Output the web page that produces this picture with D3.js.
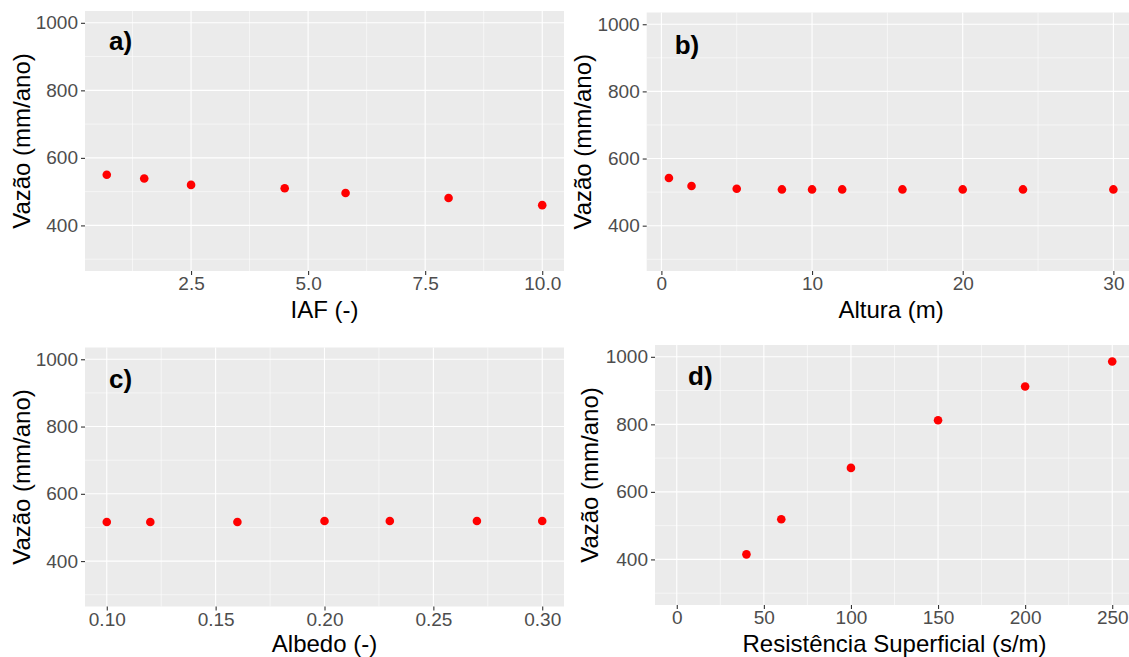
<!DOCTYPE html>
<html>
<head>
<meta charset="utf-8">
<script src="https://cdn.jsdelivr.net/npm/d3@7"></script>
<style>
  html, body { margin: 0; padding: 0; background: #ffffff; }
  svg { display: block; }
</style>
</head>
<body>
<svg id="chart" width="1129" height="657"></svg>
<script>
// ---------------- DATA ----------------
const iafX = [0.7, 1.5, 2.5, 4.5, 5.8, 8, 10];
const iafY = [550, 539, 520, 510, 496, 481, 460];

const alturaX = [0.5, 2, 5, 8, 10, 12, 16, 20, 24, 30];
const alturaY = [542, 518, 510, 508, 508, 508, 508, 508, 508, 508];

const albedoX = [0.10, 0.12, 0.16, 0.20, 0.23, 0.27, 0.30];
const albedoY = [516, 516, 516, 519, 519, 519, 519];

const rsX = [40, 60, 100, 150, 200, 250];
const rsY = [415, 519, 671, 812, 912, 986];

const iafTicks = [2.5, 5, 7.5, 10];
const alturaTicks = [0, 10, 20, 30];
const albedoTicks = [0.10, 0.15, 0.20, 0.25, 0.30];
const rsTicks = [0, 50, 100, 150, 200, 250];

const yTicks = [400, 600, 800, 1000];
const yLimits = [300, 1000];

const yTitle = "Vazão (mm/ano)";
const panelLabels = ["a)", "b)", "c)", "d)"];
const xTitles = ["IAF (-)", "Altura (m)", "Albedo (-)", "Resistência Superficial (s/m)"];

// ---------------- LAYOUT ----------------
const W = 1129, H = 657;
const FONT = "'Liberation Sans', Arial, Helvetica, sans-serif";
const panels = [
  { x: iafX, y: iafY, ticks: iafTicks, fmt: d3.format(".1f"), extra: [],
    box: { l: 85, r: 564, t: 11, b: 271 }, ytx: 30, lab: { dx: 24, dy: 39 } },
  { x: alturaX, y: alturaY, ticks: alturaTicks, fmt: d3.format("d"), extra: [],
    box: { l: 646.7, r: 1135.6, t: 12.5, b: 271 }, ytx: 591, lab: { dx: 28, dy: 41 } },
  { x: albedoX, y: albedoY, ticks: albedoTicks, fmt: d3.format(".2f"), extra: [],
    box: { l: 85, r: 564, t: 347.5, b: 606.5 }, ytx: 30, lab: { dx: 24, dy: 40 } },
  { x: rsX, y: rsY, ticks: rsTicks, fmt: d3.format("d"), extra: [0],
    box: { l: 655, r: 1134, t: 345, b: 605 }, ytx: 598, lab: { dx: 33, dy: 40 } }
];

function expand(ext) {
  const r = ext[1] - ext[0];
  return [ext[0] - 0.05 * r, ext[1] + 0.05 * r];
}
function minors(ticks, dom) {
  const step = ticks[1] - ticks[0];
  const out = [];
  const lo = ticks[0] - step / 2;
  for (let v = lo; v <= dom[1] + 1e-9; v += step) {
    if (v >= dom[0] - 1e-9) out.push(v);
  }
  return out;
}

const svg = d3.select("#chart");
svg.append("rect").attr("width", W).attr("height", H).attr("fill", "#ffffff");

const yDomain = expand(yLimits);
const yMinor = minors(yTicks, yDomain);

panels.forEach((p, i) => {
  const B = p.box;
  const xDomain = expand(d3.extent(p.x.concat(p.extra)));
  const xs = d3.scaleLinear().domain(xDomain).range([B.l, B.r]);
  const ys = d3.scaleLinear().domain(yDomain).range([B.b, B.t]);
  const g = svg.append("g");

  // background
  g.append("rect").attr("x", B.l).attr("y", B.t)
    .attr("width", B.r - B.l).attr("height", B.b - B.t).attr("fill", "#EBEBEB");

  // minor grid
  const xMinor = minors(p.ticks, xDomain);
  g.selectAll(null).data(yMinor).enter().append("line")
    .attr("x1", B.l).attr("x2", B.r).attr("y1", d => ys(d)).attr("y2", d => ys(d))
    .attr("stroke", "#ffffff").attr("stroke-width", 0.55);
  g.selectAll(null).data(xMinor).enter().append("line")
    .attr("y1", B.t).attr("y2", B.b).attr("x1", d => xs(d)).attr("x2", d => xs(d))
    .attr("stroke", "#ffffff").attr("stroke-width", 0.55);
  // major grid
  g.selectAll(null).data(yTicks).enter().append("line")
    .attr("x1", B.l).attr("x2", B.r).attr("y1", d => ys(d)).attr("y2", d => ys(d))
    .attr("stroke", "#ffffff").attr("stroke-width", 1.1);
  g.selectAll(null).data(p.ticks).enter().append("line")
    .attr("y1", B.t).attr("y2", B.b).attr("x1", d => xs(d)).attr("x2", d => xs(d))
    .attr("stroke", "#ffffff").attr("stroke-width", 1.1);

  // axes
  const ax = g.append("g").attr("transform", `translate(0,${B.b})`)
    .call(d3.axisBottom(xs).tickValues(p.ticks).tickFormat(p.fmt).tickSize(4).tickPadding(2));
  const ay = g.append("g").attr("transform", `translate(${B.l},0)`)
    .call(d3.axisLeft(ys).tickValues(yTicks).tickFormat(d3.format("d")).tickSize(4).tickPadding(3));
  [ax, ay].forEach(a => {
    a.select(".domain").remove();
    a.selectAll(".tick line").attr("stroke", "#333333").attr("stroke-width", 1.1);
    a.selectAll(".tick text").attr("fill", "#4D4D4D")
      .style("font-family", FONT).style("font-size", "19px");
  });

  // points
  g.selectAll(null).data(p.x.map((v, k) => [v, p.y[k]])).enter().append("circle")
    .attr("cx", d => xs(d[0])).attr("cy", d => ys(d[1])).attr("r", 4.3)
    .attr("fill", "#FF0000");

  // panel label
  g.append("text").attr("x", B.l + p.lab.dx).attr("y", B.t + p.lab.dy)
    .text(panelLabels[i]).attr("fill", "#000")
    .style("font-family", FONT).style("font-size", "26px").style("font-weight", "bold");

  // axis titles (kept inside the canvas)
  g.append("text").attr("x", (B.l + B.r) / 2).attr("y", Math.min(B.b + 46.5, H - 5.2))
    .attr("text-anchor", "middle").text(xTitles[i]).attr("fill", "#000")
    .style("font-family", FONT).style("font-size", "24px");
  g.append("text")
    .attr("transform", `translate(${p.ytx},${(B.t + B.b) / 2}) rotate(-90)`)
    .attr("text-anchor", "middle").text(yTitle).attr("fill", "#000")
    .style("font-family", FONT).style("font-size", "24px");
});
</script>
</body>
</html>
